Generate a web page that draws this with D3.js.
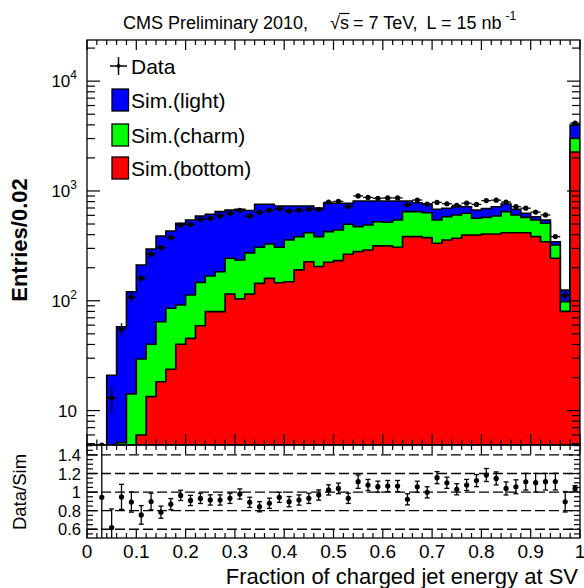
<!DOCTYPE html>
<html>
<head>
<meta charset="utf-8">
<script src="https://cdn.jsdelivr.net/npm/d3@7"></script>
<style>
  html, body { margin: 0; padding: 0; background: #fff; }
  svg { display: block; font-family: "Liberation Sans", Arial, Helvetica, sans-serif; }
</style>
</head>
<body>
<svg id="chart" width="584" height="588"></svg>
<script>
// Lower edges of the 0.02-wide bins in "fraction of charged jet energy at SV"
const binLow = [0.00,0.02,0.04,0.06,0.08,0.10,0.12,0.14,0.16,0.18,
                0.20,0.22,0.24,0.26,0.28,0.30,0.32,0.34,0.36,0.38,
                0.40,0.42,0.44,0.46,0.48,0.50,0.52,0.54,0.56,0.58,
                0.60,0.62,0.64,0.66,0.68,0.70,0.72,0.74,0.76,0.78,
                0.80,0.82,0.84,0.86,0.88,0.90,0.92,0.94,0.96,0.98];
const binWidth = 0.02;

// Simulated entries per bin, by jet flavour
const simBottom = [0,0,0.3,1.0,3.0,6.0,13.4,18.3,23.8,40.2,
                   45.5,59.3,79.6,79.6,115,104,115,144,160,146,
                   149,191,227,205,224,232,265,280,290,316,
                   316,307,384,384,376,334,358,371,397,397,
                   406,406,417,417,417,384,345,244,80,2265];
const simCharm  = [0,0,1.0,4.1,11.2,23.5,26.8,46.2,61.7,51.4,
                   67.5,87.7,88.4,104.4,129,131,158,163,169,161,
                   209,193,190,179,202,209,232,193,200,209,
                   203,237,264,264,258,210,225,233,230,167,
                   169,186,231,187,158,160,163,78,18,755];
const simLight  = [0,2.12,19.7,52.9,106.8,182.5,255.8,324.5,346.5,416.4,
                   431,445,446,464,427,446,391,450,428,423,
                   372,346,313,316,347,332,276,338,321,286,
                   292,267,163,134,128,137,112,115,92,107,
                   115,127,114,77,52,39,36,23,27,970];

// Observed entries per bin
const dataCounts = [0,2,13,55,108,160,266,305,376,490,
                    495,552,562,593,626,667,591,638,666,689,
                    655,668,681,678,791,804,721,902,873,858,
                    864,864,748,827,760,787,765,741,774,754,
                    817,825,792,720,697,642,605,384,112,4150];

// Uncertainty on Data/Sim per bin
const ratioErr = [0,1.0,0.2,0.135,0.108,0.1,0.09,0.065,0.06,0.055,
                  0.055,0.055,0.055,0.055,0.055,0.055,0.055,0.055,0.055,0.055,
                  0.055,0.055,0.055,0.055,0.055,0.057,0.055,0.072,0.06,0.06,
                  0.06,0.06,0.06,0.06,0.06,0.065,0.06,0.06,0.06,0.065,
                  0.07,0.07,0.07,0.075,0.09,0.1,0.09,0.09,0.11,0.03];

// Axis ticks and labels
const xTickValues = [0,0.1,0.2,0.3,0.4,0.5,0.6,0.7,0.8,0.9,1];
const xTickLabels = ["0","0.1","0.2","0.3","0.4","0.5","0.6","0.7","0.8","0.9","1"];
const yTickValues = [10,100,1000,10000];
const yTickExps   = ["","2","3","4"];
const rTickValues = [0.6,0.8,1,1.2,1.4];
const rTickLabels = ["0.6","0.8","1","1.2","1.4"];

const legendItems = [
  {label: "Data", kind: "marker"},
  {label: "Sim.(light)", kind: "box", color: "#0000ff"},
  {label: "Sim.(charm)", kind: "box", color: "#00ff00"},
  {label: "Sim.(bottom)", kind: "box", color: "#ff0000"}
];

// ---- layout ----
const L = 87, R = 580;
const T1 = 40, B1 = 445;   // main pad
const T2 = 445, B2 = 538;  // ratio pad

const svg = d3.select("#chart");
const x  = d3.scaleLinear().domain([0, 1]).range([L, R]);
const y  = d3.scaleLog().domain([4.86, 23700]).range([B1, T1]).clamp(true);
const yr = d3.scaleLinear().domain([0.506, 1.507]).range([B2, T2]);

const defs = svg.append("defs");
defs.append("clipPath").attr("id", "clipMain")
  .append("rect").attr("x", L).attr("y", T1).attr("width", R - L).attr("height", B1 - T1);
defs.append("clipPath").attr("id", "clipRatio")
  .append("rect").attr("x", L).attr("y", T2).attr("width", R - L).attr("height", B2 - T2);

// ---- stacked histogram ----
const cumBottom = simBottom.slice();
const cumCharm  = simCharm.map((v, i) => v + simBottom[i]);
const cumTotal  = simLight.map((v, i) => v + cumCharm[i]);

function stepPath(vals) {
  const pts = [[x(0), B1]];
  vals.forEach((v, i) => {
    const yy = v > 0 ? y(v) : B1;
    pts.push([x(binLow[i]), yy], [x(binLow[i] + binWidth), yy]);
  });
  pts.push([x(1), B1]);
  return d3.line()(pts) + "Z";
}

const gMain = svg.append("g").attr("clip-path", "url(#clipMain)");
[[cumTotal, "#0000ff"], [cumCharm, "#00ff00"], [cumBottom, "#ff0000"]].forEach(([vals, col]) => {
  gMain.append("path")
    .attr("d", stepPath(vals))
    .attr("fill", col)
    .attr("stroke", "#000")
    .attr("stroke-width", 1.6)
    .attr("stroke-linejoin", "miter");
});

// ---- data points ----
const gData = gMain.append("g").attr("stroke", "#000").attr("stroke-width", 1.3);
dataCounts.forEach((d, i) => {
  if (d <= 0) return;
  const cx = x(binLow[i] + binWidth / 2);
  const e = Math.sqrt(d);
  gData.append("line")
    .attr("x1", x(binLow[i])).attr("x2", x(binLow[i] + binWidth))
    .attr("y1", y(d)).attr("y2", y(d));
  gData.append("line")
    .attr("x1", cx).attr("x2", cx)
    .attr("y1", y(d + e)).attr("y2", y(Math.max(d - e, 1e-3)));
  gData.append("circle").attr("cx", cx).attr("cy", y(d)).attr("r", 2.6)
    .attr("fill", "#000").attr("stroke", "none");
});

// ---- ratio pad ----
const gRatio = svg.append("g").attr("clip-path", "url(#clipRatio)");
rTickValues.forEach(v => {
  gRatio.append("line")
    .attr("x1", L).attr("x2", R).attr("y1", yr(v)).attr("y2", yr(v))
    .attr("stroke", "#000").attr("stroke-width", 1.3)
    .attr("stroke-dasharray", "10,4");
});
dataCounts.forEach((d, i) => {
  const s = cumTotal[i];
  if (d <= 0 || s <= 0) return;
  const r = d / s;
  const cx = x(binLow[i] + binWidth / 2);
  const e = ratioErr[i];
  const g = gRatio.append("g").attr("stroke", "#000").attr("stroke-width", 1.3);
  g.append("line").attr("x1", cx).attr("x2", cx).attr("y1", yr(r + e)).attr("y2", yr(r - e));
  g.append("line").attr("x1", cx - 2.5).attr("x2", cx + 2.5).attr("y1", yr(r + e)).attr("y2", yr(r + e));
  g.append("line").attr("x1", cx - 2.5).attr("x2", cx + 2.5).attr("y1", yr(r - e)).attr("y2", yr(r - e));
  g.append("circle").attr("cx", cx).attr("cy", yr(r)).attr("r", 2.6).attr("fill", "#000").attr("stroke", "none");
});

// ---- frames and ticks ----
const axes = svg.append("g").attr("stroke", "#000").attr("fill", "none");
axes.append("rect").attr("x", L).attr("y", T1).attr("width", R - L).attr("height", B1 - T1).attr("stroke-width", 1.3);
axes.append("rect").attr("x", L).attr("y", T2).attr("width", R - L).attr("height", B2 - T2).attr("stroke-width", 1.3);

const xMinor = d3.range(0, 51).map(i => i / 50).filter(v => Math.abs(v * 10 - Math.round(v * 10)) > 1e-6);
function xTicks(yEdge, dir, majLen, minLen) {
  xTickValues.forEach(v => axes.append("line").attr("x1", x(v)).attr("x2", x(v))
    .attr("y1", yEdge).attr("y2", yEdge + dir * majLen).attr("stroke-width", 1.2));
  xMinor.forEach(v => axes.append("line").attr("x1", x(v)).attr("x2", x(v))
    .attr("y1", yEdge).attr("y2", yEdge + dir * minLen).attr("stroke-width", 1.2));
}
xTicks(T1, 1, 10, 5);
xTicks(B1, -1, 11, 5.5);
xTicks(T2, 1, 9, 5);
xTicks(B2, -1, 9, 5);

// log ticks on both sides of the main pad
const logMinor = [];
[1, 10, 100, 1000, 10000].forEach(dec => {
  for (let k = 2; k <= 9; k++) {
    const v = dec * k;
    if (v > y.domain()[0] && v < y.domain()[1]) logMinor.push(v);
  }
});
[[L, 1], [R, -1]].forEach(([xe, dir]) => {
  yTickValues.forEach(v => axes.append("line").attr("x1", xe).attr("x2", xe + dir * 13)
    .attr("y1", y(v)).attr("y2", y(v)).attr("stroke-width", 1.2));
  logMinor.forEach(v => axes.append("line").attr("x1", xe).attr("x2", xe + dir * 8)
    .attr("y1", y(v)).attr("y2", y(v)).attr("stroke-width", 1.2));
});

// linear ticks on both sides of the ratio pad
const rMinor = d3.range(0, 21).map(i => 0.5 + i * 0.05)
  .filter(v => v > yr.domain()[0] && v < yr.domain()[1] && !rTickValues.some(t => Math.abs(t - v) < 1e-6));
[[L, 1], [R, -1]].forEach(([xe, dir]) => {
  rTickValues.forEach(v => axes.append("line").attr("x1", xe).attr("x2", xe + dir * 11)
    .attr("y1", yr(v)).attr("y2", yr(v)).attr("stroke-width", 1.2));
  rMinor.forEach(v => axes.append("line").attr("x1", xe).attr("x2", xe + dir * 6)
    .attr("y1", yr(v)).attr("y2", yr(v)).attr("stroke-width", 1.2));
});

// ---- tick labels ----
const labels = svg.append("g").attr("fill", "#000");
xTickValues.forEach((v, i) => {
  labels.append("text").attr("x", x(v)).attr("y", 558)
    .attr("text-anchor", "middle").attr("font-size", 19).text(xTickLabels[i]);
});
rTickValues.forEach((v, i) => {
  labels.append("text").attr("x", 81).attr("y", yr(v) + 6)
    .attr("text-anchor", "end").attr("font-size", 16.5).text(rTickLabels[i]);
});
yTickValues.forEach((v, i) => {
  const t = labels.append("text").attr("x", 77).attr("y", y(v) + 6)
    .attr("text-anchor", "end").attr("font-size", 17);
  t.append("tspan").text("10");
  if (yTickExps[i]) t.append("tspan").attr("font-size", 12).attr("dy", -8).text(yTickExps[i]);
});

// ---- axis titles ----
labels.append("text").attr("x", 578).attr("y", 584).attr("text-anchor", "end")
  .attr("font-size", 22).text("Fraction of charged jet energy at SV");
labels.append("text").attr("transform", "translate(27,240) rotate(-90)")
  .attr("text-anchor", "middle").attr("font-size", 22).attr("font-weight", "bold")
  .text("Entries/0.02");
labels.append("text").attr("transform", "translate(26,492) rotate(-90)")
  .attr("text-anchor", "middle").attr("font-size", 18.5)
  .text("Data/Sim");

// ---- header: pieces placed one after another ----
const hdr = labels.append("g").attr("font-size", 18);
const base = 29;
let cur = 123;
function piece(txt, gap, opts = {}) {
  cur += gap;
  const t = hdr.append("text").attr("x", cur).attr("y", base + (opts.dy || 0)).text(txt);
  if (opts.size) t.attr("font-size", opts.size);
  const x0 = cur;
  cur += t.node().getComputedTextLength();
  return [x0, cur];
}
piece("CMS Preliminary 2010,", 0);
const [rootX0, rootX1] = piece("\u221A", 22);
const [sX0, sX1] = piece("s", 0);
hdr.append("line")
  .attr("x1", rootX1 - 1).attr("x2", sX1 + 0.5)
  .attr("y1", base - 15.5).attr("y2", base - 15.5)
  .attr("stroke", "#000").attr("stroke-width", 1.2);
piece("= 7 TeV,", 4);
piece("L = 15 nb", 9);
piece("-1", 4, {size: 12, dy: -9});

// ---- legend ----
const leg = svg.append("g");
const legRows = [66, 100, 135, 168];
legendItems.forEach((it, i) => {
  const cy = legRows[i];
  if (it.kind === "marker") {
    leg.append("line").attr("x1", 110).attr("x2", 127).attr("y1", cy).attr("y2", cy).attr("stroke", "#000").attr("stroke-width", 1.5);
    leg.append("line").attr("x1", 118.5).attr("x2", 118.5).attr("y1", cy - 9).attr("y2", cy + 9).attr("stroke", "#000").attr("stroke-width", 1.5);
    leg.append("circle").attr("cx", 118.5).attr("cy", cy).attr("r", 2).attr("fill", "#000");
  } else {
    leg.append("rect").attr("x", 112).attr("y", cy - 11).attr("width", 16.5).attr("height", 22)
      .attr("fill", it.color).attr("stroke", "#000").attr("stroke-width", 1.3);
  }
  leg.append("text").attr("x", 131).attr("y", cy + 7.5).attr("font-size", 21).attr("fill", "#000").text(it.label);
});
</script>
</body>
</html>
